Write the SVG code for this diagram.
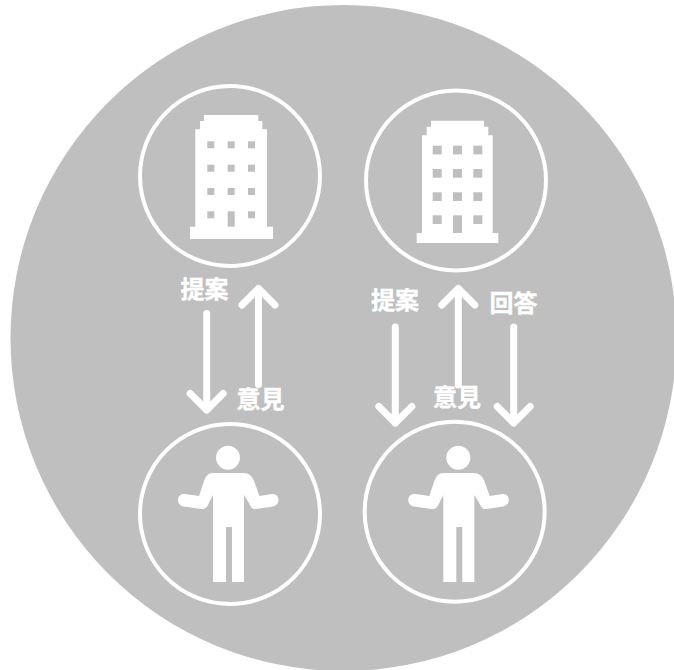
<svg xmlns="http://www.w3.org/2000/svg" width="674" height="670" viewBox="0 0 674 670">
<style>
.ring{fill:none;stroke:#fff;stroke-width:4}
.win{fill:#bfbfbf}
.arrow{fill:none;stroke:#fff;stroke-width:7;stroke-linecap:round;stroke-linejoin:round}
text{font-family:"Noto Sans CJK JP","Noto Sans CJK SC",sans-serif;font-size:24px;font-weight:700;fill:#fff;stroke:#fff;stroke-width:.4}
</style>
<defs>
<g id="person" fill="#fff">
<circle cx="228" cy="457.700" r="12"/>
<path d="M213 473H243C249 473 252 476 254 481L259.500 496L272 494C276 493.500 278.500 496.500 278.500 500C278.500 503.500 276.500 505.500 273 506.500L256 509C252.500 509.500 250.500 507 249 503L244 495V582H232V527H226V582H213V495L209 503C207.500 507 205 509.500 201 509L184 506.500C180.500 506 177.800 503.500 178 499.500C178.200 495.500 181.500 493.500 185 494L199 496L204 481C206 476 208 473 213 473Z"/>
</g>
</defs>
<circle id="background" cx="343.500" cy="338" r="333" fill="#bfbfbf"/>
<g id="building-left"><circle class="ring" cx="230" cy="176" r="90"/>
<path fill="#fff" d="M204 115H258.300V121H262.300V129.300H267V226.700H273V239H190V226.700H195.300V129.300H200V121H204Z"/>
<g class="win">
<rect x="207.300" y="141.300" width="7" height="7"/><rect x="227.700" y="141.300" width="7" height="7"/><rect x="248" y="141.300" width="7" height="7"/>
<rect x="207.300" y="164.700" width="7" height="7"/><rect x="227.700" y="164.700" width="7" height="7"/><rect x="248" y="164.700" width="7" height="7"/>
<rect x="207.300" y="188" width="7" height="7"/><rect x="227.700" y="188" width="7" height="7"/><rect x="248" y="188" width="7" height="7"/>
<rect x="207.300" y="211.300" width="7" height="7"/><rect x="227.700" y="211.300" width="7" height="15.400"/><rect x="248" y="211.300" width="7" height="7"/>
</g></g>
<g id="building-right"><circle class="ring" cx="456" cy="180.500" r="90"/>
<path fill="#fff" d="M431 120.700H484V126.700H488.300V135.300H492.700V233H498.300V243H416.700V233H422V135.300H426.700V126.700H431Z"/>
<g class="win">
<rect x="432.700" y="145.700" width="9" height="8.700"/><rect x="453" y="145.700" width="9" height="8.700"/><rect x="473.300" y="145.700" width="9" height="8.700"/>
<rect x="432.700" y="169" width="9" height="8.700"/><rect x="453" y="169" width="9" height="8.700"/><rect x="473.300" y="169" width="9" height="8.700"/>
<rect x="432.700" y="192.300" width="9" height="8.700"/><rect x="453" y="192.300" width="9" height="8.700"/><rect x="473.300" y="192.300" width="9" height="8.700"/>
<rect x="432.700" y="215.300" width="9" height="8.700"/><rect x="453" y="215.300" width="9" height="17.700"/><rect x="473.300" y="215.300" width="9" height="8.700"/>
</g></g>
<g id="person-left"><circle class="ring" cx="230" cy="514" r="90"/><use href="#person"/></g>
<g id="person-right"><circle class="ring" cx="454.700" cy="511.700" r="90"/><use href="#person" x="230.300"/></g>
<g id="connectors">
<path class="arrow" d="M206.700 313.500V410M190.200 393.500L206.700 410L223.200 393.500"/>
<path class="arrow" d="M258.500 384.500V288.500M242 305L258.500 288.500L275 305"/>
<path class="arrow" d="M395.300 327V423M378.800 406.500L395.300 423L411.800 406.500"/>
<path class="arrow" d="M458.300 385V288.500M441.800 305L458.300 288.500L474.800 305"/>
<path class="arrow" d="M513.700 327V423M497.200 406.500L513.700 423L530.200 406.500"/>
</g>
<g id="labels">
<text x="180.500" y="298">提案</text>
<text x="236.500" y="408">意見</text>
<text x="371" y="309">提案</text>
<text x="433" y="406">意見</text>
<text x="489.500" y="312">回答</text>
</g>
</svg>
